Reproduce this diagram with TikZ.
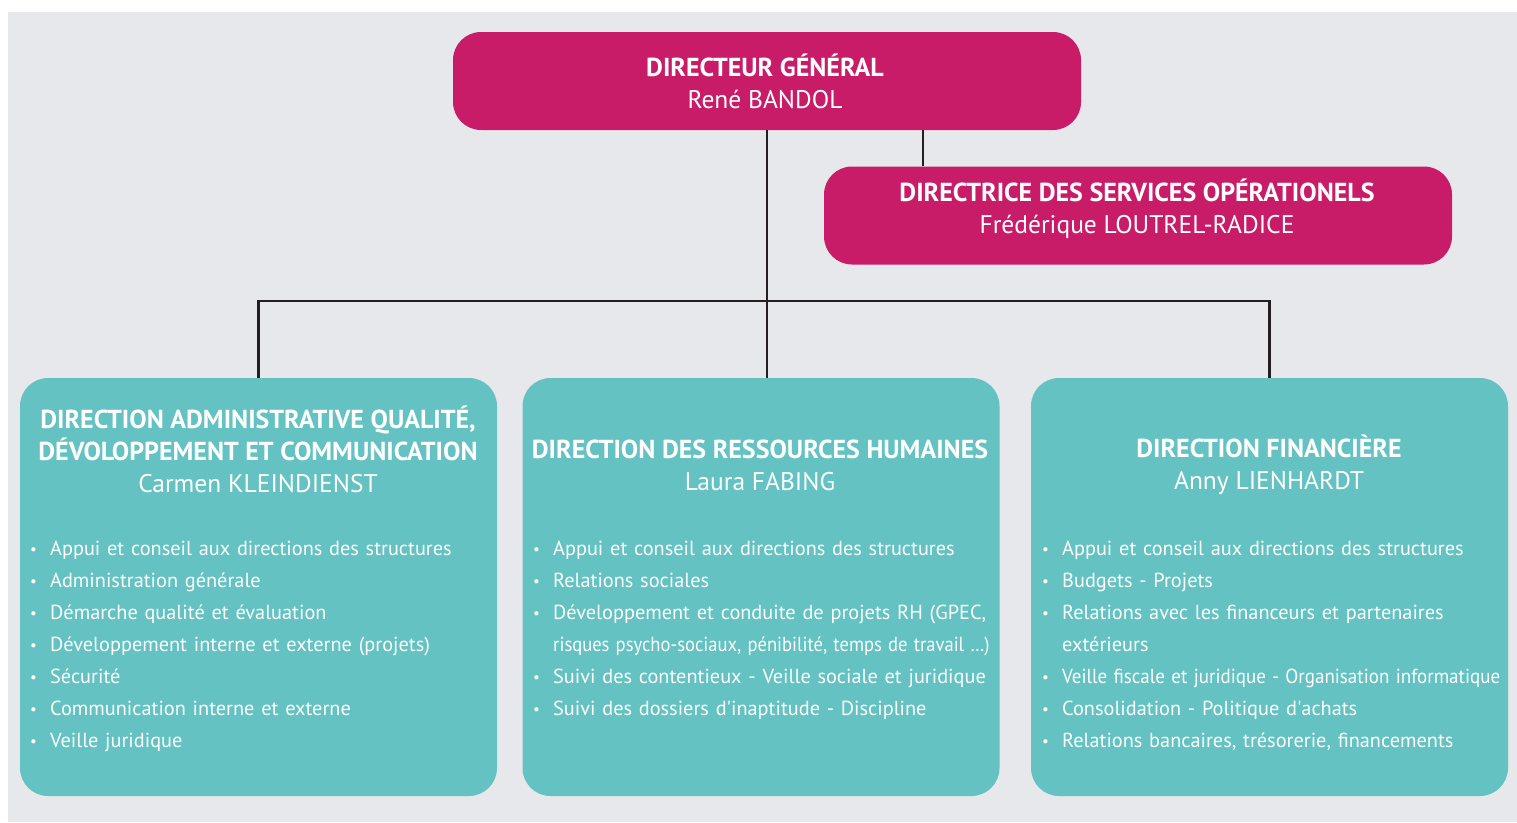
\documentclass[tikz,border=0pt]{standalone}
\usepackage{fontspec}
\usepackage{graphicx}
\setmainfont{PT Sans}
\definecolor{bgc}{HTML}{E7E8EC}
\definecolor{mag}{HTML}{C81C68}
\definecolor{teal1}{HTML}{64C2C2}
\definecolor{linec}{HTML}{231F20}
\newcommand{\nohy}{\hyphenpenalty=10000 \exhyphenpenalty=10000 }
\newcommand{\bitem}[1]{\par\noindent\hangindent=20pt\hangafter=1\makebox[20pt][l]{\raisebox{1pt}{\fontsize{15}{15}\selectfont\textbullet}}#1}
\newcommand{\hd}{\bfseries\fontsize{26}{32}\selectfont}
\tikzset{
  magbox/.style={fill=mag, rounded corners=28pt, minimum width=628pt, minimum height=98pt, inner sep=0pt},
  tealbox/.style={fill=teal1, rounded corners=28pt, minimum width=477pt, minimum height=418pt, inner sep=0pt},
  headtxt/.style={text=white, align=center, font=\fontsize{25.5}{32}\selectfont, inner sep=0pt},
  listtxt/.style={text=white, align=left, text width=620pt, anchor=north west, inner sep=0pt, font=\fontsize{20.3}{32}\selectfont},
  conn/.style={draw=linec, line width=2.5pt}
}
\begin{document}
\begin{tikzpicture}[x=1pt,y=-1pt]
\useasboundingbox (0,0) rectangle (1517,822);
\fill[bgc] (8,12) rectangle (1517,822);
% boxes
\node[magbox] (dg) at (767,81) {};
\node[magbox] (dso) at (1138,215.5) {};
\node[tealbox] (b1) at (258.5,587) {};
\node[tealbox] (b2) at (761,587) {};
\node[tealbox] (b3) at (1269.5,587) {};
% connectors
\draw[conn] (dg.south) -- (dg.south |- b2.north);
\draw[conn] (b1.north) -- ++(0,-77) -| (b3.north);
\draw[conn] ([xshift=99pt]dso.north west) -- ([xshift=99pt]dso.north west |- dg.south);
% headings
\node[headtxt] (dgt) at (765,81) {{\hd DIRECTEUR GÉNÉRAL}\\René BANDOL};
\node[headtxt] (dsot) at (1137,209) {{\hd DIRECTRICE DES SERVICES OPÉRATIONELS}\\Frédérique LOUTREL-RADICE};
\node[headtxt] (b1t) at (258,449) {{\hd DIRECTION ADMINISTRATIVE QUALITÉ,}\\{\hd DÉVOLOPPEMENT ET COMMUNICATION}\\Carmen KLEINDIENST};
\node[headtxt] (b2t) at (760,465) {{\hd DIRECTION DES RESSOURCES HUMAINES}\\Laura FABING};
\node[headtxt] (b3t) at (1269,465) {{\hd DIRECTION FINANCIÈRE}\\Anny LIENHARDT};
% lists
\node[listtxt] (b1l) at (30,523) {\nohy
\bitem{Appui et conseil aux directions des structures}
\bitem{Administration générale}
\bitem{Démarche qualité et évaluation}
\bitem{Développement interne et externe (projets)}
\bitem{Sécurité}
\bitem{Communication interne et externe}
\bitem{Veille juridique}};
\node[listtxt] (b2l) at (533,523) {\nohy
\bitem{Appui et conseil aux directions des structures}
\bitem{Relations sociales}
\bitem{Développement et conduite de projets RH (GPEC,\newline \scalebox{0.915}[1]{risques psycho-sociaux, pénibilité, temps de travail …)}}
\bitem{Suivi des contentieux - Veille sociale et juridique}
\bitem{Suivi des dossiers d\textquotesingle inaptitude - Discipline}};
\node[listtxt] (b3l) at (1042,523) {\nohy
\bitem{Appui et conseil aux directions des structures}
\bitem{Budgets - Projets}
\bitem{Relations avec les financeurs et partenaires\newline extérieurs}
\bitem{\scalebox{0.935}[1]{Veille fiscale et juridique - Organisation informatique}}
\bitem{Consolidation - Politique d\textquotesingle achats}
\bitem{Relations bancaires, trésorerie, financements}};
\end{tikzpicture}
\end{document}
